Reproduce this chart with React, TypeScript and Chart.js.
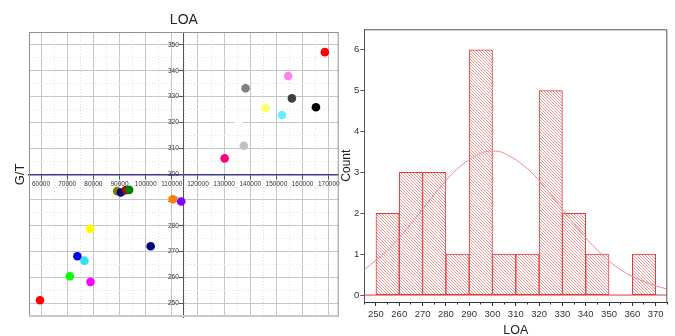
import React, { useEffect, useRef } from 'react';
import { Chart, registerables } from 'chart.js';

Chart.register(...registerables);

const FONT = "'Liberation Sans', Arial, Helvetica, sans-serif";

// ---- Left panel: G/T vs LOA scatter ----
const loaValues = [
  168500, 154500, 138200, 155900, 145800, 152100, 165100, 135500, 137500, 130200,
  89100, 90500, 92400, 93700, 110400, 113600, 78800, 101900, 73900, 76600, 71000, 78900, 59600,
];
const gtValues = [
  347.2, 338.0, 333.2, 329.3, 325.6, 322.9, 325.9, 320.3, 311.0, 306.1,
  293.4, 292.9, 293.8, 293.9, 290.3, 289.4, 278.8, 272.1, 268.2, 266.5, 260.5, 258.3, 251.2,
];
const dotColors = [
  '#ff0000', '#ff80f0', '#808080', '#404040', '#ffff66', '#66f0ff', '#000000', '#ffffff', '#c0c0c0', '#ff0080',
  '#808000', '#000080', '#b00000', '#008000', '#ff8000', '#8000ff', '#ffff00', '#000080', '#0000ff', '#33e0f0', '#00ff00', '#ff00ff', '#ff0000',
];
// gridline / tick positions on the LOA axis (labels on every 10000)
const loaTickValues = [
  60000, 65000, 70000, 75000, 80000, 85000, 90000, 95000, 100000, 105000, 110000, 115000,
  120000, 125000, 130000, 135000, 140000, 145000, 150000, 155000, 160000, 165000, 170000,
];
const gtTickValues = [
  245, 250, 255, 260, 265, 270, 275, 280, 285, 290, 295, 300,
  305, 310, 315, 320, 325, 330, 335, 340, 345, 350, 355,
];

// ---- Right panel: histogram of LOA ----
const binStarts = [250, 260, 270, 280, 290, 300, 310, 320, 330, 340, 350, 360];
const binCounts = [2, 3, 3, 1, 6, 1, 1, 5, 2, 1, 0, 1];
const binWidth = 10;
const histTickValues = [250, 260, 270, 280, 290, 300, 310, 320, 330, 340, 350, 360, 370];
const curveLOA = [245, 255, 265, 275, 285, 295, 300, 305, 315, 325, 335, 345, 355, 365, 375];
const curveCount = [0.62, 1.1, 1.74, 2.46, 3.09, 3.47, 3.52, 3.47, 3.09, 2.46, 1.74, 1.1, 0.62, 0.33, 0.14];

function makeHatch(): CanvasPattern | string {
  const c = document.createElement('canvas');
  c.width = 3;
  c.height = 3;
  const g = c.getContext('2d');
  if (!g) return '#fbd0d0';
  g.fillStyle = '#ffffff';
  g.fillRect(0, 0, 3, 3);
  g.fillStyle = '#ee9595';
  for (let i = 0; i < 3; i++) g.fillRect(i, i, 1, 1);
  return g.createPattern(c, 'repeat') || '#fbd0d0';
}

const leftFrame = {
  id: 'leftFrame',
  beforeDatasetsDraw(chart: any) {
    const { ctx, chartArea: a } = chart;
    ctx.save();
    ctx.lineWidth = 1;
    ctx.strokeStyle = '#909090';
    ctx.beginPath();
    ctx.moveTo(a.left + 0.5, a.bottom);
    ctx.lineTo(a.left + 0.5, a.top + 0.5);
    ctx.lineTo(a.right - 0.5, a.top + 0.5);
    ctx.lineTo(a.right - 0.5, a.bottom);
    ctx.stroke();
    ctx.strokeStyle = '#c8c8c8';
    ctx.lineWidth = 2;
    ctx.beginPath();
    ctx.moveTo(a.left, a.bottom - 1);
    ctx.lineTo(a.right, a.bottom - 1);
    ctx.stroke();
    ctx.restore();
  },
};

const rightFrame = {
  id: 'rightFrame',
  afterDraw(chart: any) {
    const { ctx, chartArea: a } = chart;
    ctx.save();
    ctx.lineWidth = 1;
    ctx.strokeStyle = '#555555';
    ctx.beginPath();
    ctx.moveTo(a.left, a.top + 0.5);
    ctx.lineTo(a.right - 0.5, a.top + 0.5);
    ctx.lineTo(a.right - 0.5, a.bottom);
    ctx.stroke();
    ctx.restore();
  },
};

export default function App() {
  const leftRef = useRef<HTMLCanvasElement>(null);
  const rightRef = useRef<HTMLCanvasElement>(null);

  useEffect(() => {
    Chart.defaults.font.family = FONT;
    const isMajorX = (c: any) => c.tick && Math.round(c.tick.value) % 10000 === 0;
    const isMajorY = (c: any) => c.tick && Math.round(c.tick.value) % 10 === 0;

    const left = new Chart(leftRef.current as HTMLCanvasElement, {
      type: 'scatter',
      data: {
        datasets: [
          {
            data: loaValues.map((x, i) => ({ x, y: gtValues[i] })),
            xAxisID: 'x',
            yAxisID: 'y',
            pointBackgroundColor: dotColors,
            pointBorderWidth: 0,
            pointBorderColor: 'rgba(0,0,0,0)',
            pointRadius: 4.3,
            pointHoverRadius: 4.3,
          },
        ],
      },
      options: {
        animation: false,
        responsive: false,
        devicePixelRatio: 1,
        events: [],
        layout: { padding: { left: 0, right: 2, top: 0, bottom: 19 } },
        plugins: {
          legend: { display: false },
          tooltip: { enabled: false },
          title: {
            display: true,
            text: 'LOA',
            fullSize: false,
            color: '#222',
            font: { family: FONT, size: 14, weight: 'normal' },
            padding: { top: 11.6, bottom: 3.6 },
          },
        },
        scales: {
          gt: {
            type: 'linear',
            position: 'left',
            min: 0,
            max: 1,
            grid: { display: false },
            border: { display: false },
            ticks: { display: false },
            title: {
              display: true,
              text: 'G/T',
              color: '#222',
              font: { family: FONT, size: 13 },
              padding: { top: 13, bottom: 0 },
            },
            afterFit: (s: any) => {
              s.width = 29;
            },
          },
          x: {
            type: 'linear',
            min: 55400,
            max: 173800,
            position: 'center',
            afterBuildTicks: (s: any) => {
              s.ticks = loaTickValues.map((value) => ({ value }));
            },
            ticks: {
              autoSkip: false,
              maxRotation: 0,
              minRotation: 0,
              padding: 2,
              color: '#333',
              font: { family: FONT, size: 6.5 },
              callback: (v: any) => (Math.round(v) % 10000 === 0 ? String(v) : ''),
            },
            grid: {
              color: (c: any) => (isMajorX(c) ? '#c6c6c6' : '#e2e2e2'),
              tickColor: (c: any) => (isMajorX(c) ? '#555' : 'rgba(0,0,0,0)'),
              tickLength: 4,
              lineWidth: 1,
            },
            border: {
              display: true,
              color: '#3c3c8c',
              width: 1.5,
              dash: (c: any) => (c.tick && !isMajorX(c) ? [1, 2] : []),
            },
          },
          y: {
            type: 'linear',
            min: 244.7,
            max: 355,
            position: 'center',
            afterBuildTicks: (s: any) => {
              s.ticks = gtTickValues.map((value) => ({ value }));
            },
            ticks: {
              autoSkip: false,
              padding: 1,
              color: '#333',
              font: { family: FONT, size: 6.5 },
              callback: (v: any) => (Math.round(v) % 10 === 0 ? String(v) : ''),
            },
            grid: {
              color: (c: any) => (isMajorY(c) ? '#c6c6c6' : '#e2e2e2'),
              tickColor: (c: any) => (isMajorY(c) ? '#555' : 'rgba(0,0,0,0)'),
              tickLength: 4,
              lineWidth: 1,
            },
            border: {
              display: true,
              color: '#555555',
              width: 1,
              dash: (c: any) => (c.tick && !isMajorY(c) ? [1, 2] : []),
            },
          },
        },
      } as any,
      plugins: [leftFrame],
    });

    const hatch = makeHatch();
    const right = new Chart(rightRef.current as HTMLCanvasElement, {
      type: 'bar',
      data: {
        datasets: [
          {
            type: 'line',
            data: curveLOA.map((x, i) => ({ x, y: curveCount[i] })),
            borderColor: '#f08c8c',
            borderWidth: 1,
            pointRadius: 0,
            tension: 0.4,
            order: 0,
          },
          {
            type: 'bar',
            data: binStarts.map((b, i) => ({ x: b + binWidth / 2, y: binCounts[i] })),
            backgroundColor: hatch,
            borderColor: '#e23c3c',
            borderWidth: 1,
            borderSkipped: false,
            barPercentage: 1,
            categoryPercentage: 1,
            order: 1,
          },
          {
            type: 'line',
            data: [
              { x: curveLOA[0], y: 0 },
              { x: curveLOA[curveLOA.length - 1], y: 0 },
            ],
            borderColor: '#e23c3c',
            borderWidth: 1,
            pointRadius: 0,
            order: 2,
          },
        ] as any,
      },
      options: {
        animation: false,
        responsive: false,
        devicePixelRatio: 1,
        events: [],
        layout: { padding: { left: 0, right: 7.7, top: 29.3, bottom: 0 } },
        plugins: {
          legend: { display: false },
          tooltip: { enabled: false },
        },
        scales: {
          x: {
            type: 'linear',
            min: 245,
            max: 375,
            offset: false,
            afterBuildTicks: (s: any) => {
              s.ticks = histTickValues.map((value) => ({ value }));
            },
            ticks: {
              autoSkip: false,
              maxRotation: 0,
              minRotation: 0,
              padding: 3,
              color: '#333',
              font: { family: FONT, size: 9.5 },
            },
            grid: { offset: false, drawOnChartArea: false, tickLength: 4, tickColor: '#333' },
            border: { color: '#333' },
            title: {
              display: true,
              text: 'LOA',
              color: '#222',
              font: { family: FONT, size: 12.5, lineHeight: 0.88 },
              padding: { top: 0, bottom: 0 },
            },
            afterFit: (s: any) => {
              s.height = 34;
            },
          },
          x2: {
            type: 'linear',
            axis: 'x',
            min: 245,
            max: 375,
            offset: false,
            position: { y: -0.17 },
            ticks: { display: false, stepSize: 5, includeBounds: false, autoSkip: false },
            grid: { offset: false, drawOnChartArea: false, tickLength: 2.5, tickColor: '#333' },
            border: { display: false },
          },
          y: {
            type: 'linear',
            min: -0.17,
            max: 6.5,
            ticks: {
              stepSize: 1,
              includeBounds: false,
              padding: 1,
              color: '#333',
              font: { family: FONT, size: 9.5 },
            },
            grid: { drawOnChartArea: false, tickLength: 4, tickColor: '#555' },
            border: { color: '#555' },
            title: {
              display: true,
              text: 'Count',
              color: '#222',
              font: { family: FONT, size: 12 },
              padding: { top: 9.8, bottom: 0 },
            },
            afterFit: (s: any) => {
              s.width = 34.3;
            },
          },
        },
      } as any,
      plugins: [rightFrame],
    });

    return () => {
      left.destroy();
      right.destroy();
    };
  }, []);

  return (
    <div style={{ position: 'absolute', left: 0, top: 0, width: 675, height: 336, background: '#ffffff', overflow: 'hidden' }}>
      <canvas ref={leftRef} width={343} height={336} style={{ position: 'absolute', left: 0, top: 0, width: 343, height: 336 }} />
      <canvas ref={rightRef} width={345} height={336} style={{ position: 'absolute', left: 330, top: 0, width: 345, height: 336 }} />
    </div>
  );
}
